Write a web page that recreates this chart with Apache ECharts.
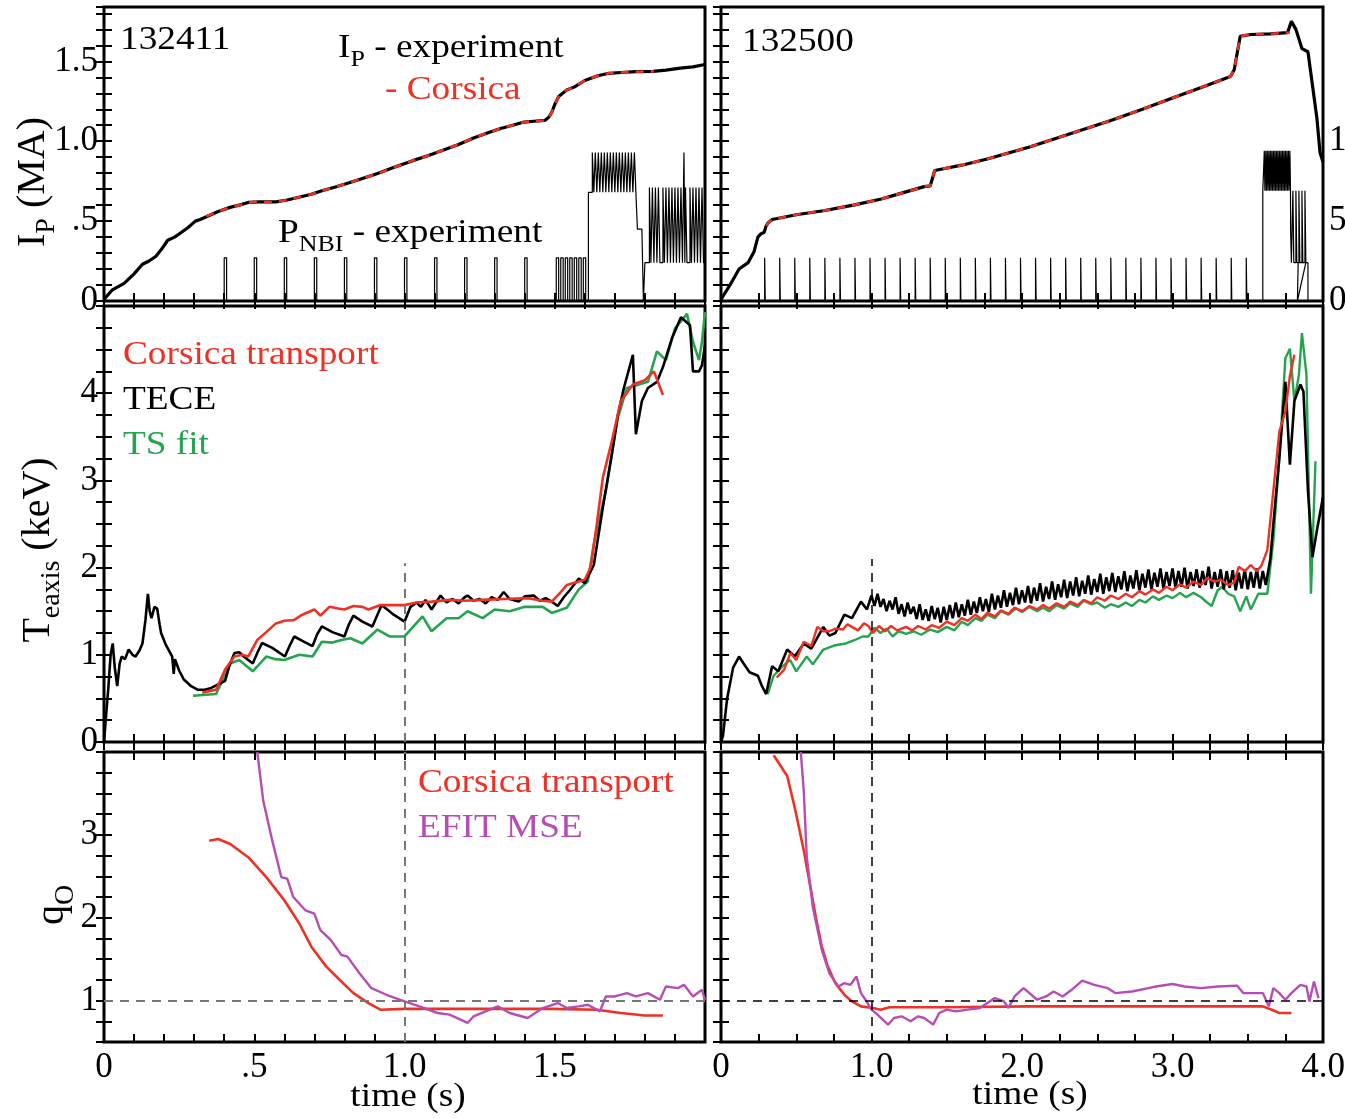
<!DOCTYPE html>
<html><head><meta charset="utf-8">
<script src="https://cdn.jsdelivr.net/npm/echarts@6/dist/echarts.min.js"></script>
<style>html,body{margin:0;padding:0;background:#fff}#c{width:1345px;height:1118px}</style>
</head><body><div id="c"></div>
<script>
// ---------------- DATA ----------------
// Ip (MA) vs time (s)
const leftIpExp = [[0,0.01],[0.028,0.07],[0.067,0.11],[0.1,0.17],[0.128,0.23],[0.15,0.25],[0.173,0.28],[0.19,0.32],[0.212,0.38],[0.235,0.40],[0.258,0.43],[0.28,0.46],[0.304,0.50],[0.32,0.51],[0.35,0.535],[0.38,0.56],[0.419,0.586],[0.45,0.60],[0.48,0.617],[0.52,0.62],[0.572,0.62],[0.61,0.632],[0.648,0.649],[0.69,0.668],[0.725,0.69],[0.77,0.713],[0.816,0.74],[0.86,0.767],[0.908,0.796],[0.97,0.84],[1.03,0.88],[1.08,0.91],[1.123,0.94],[1.18,0.98],[1.23,1.02],[1.28,1.055],[1.32,1.08],[1.36,1.10],[1.398,1.12],[1.43,1.125],[1.467,1.13],[1.48,1.15],[1.49,1.18],[1.50,1.23],[1.513,1.28],[1.54,1.32],[1.566,1.34],[1.60,1.38],[1.643,1.41],[1.68,1.425],[1.72,1.43],[1.77,1.435],[1.827,1.437],[1.87,1.445],[1.918,1.457],[1.96,1.465],[2.0,1.48]];
const leftIpCorsica = [[0.34,0.53],[0.38,0.56],[0.419,0.586],[0.45,0.60],[0.48,0.617],[0.52,0.62],[0.572,0.62],[0.61,0.632],[0.648,0.649],[0.69,0.668],[0.725,0.69],[0.77,0.713],[0.816,0.74],[0.86,0.767],[0.908,0.796],[0.97,0.84],[1.03,0.88],[1.08,0.91],[1.123,0.94],[1.18,0.98],[1.23,1.02],[1.28,1.055],[1.32,1.08],[1.36,1.10],[1.398,1.12],[1.43,1.125],[1.467,1.13],[1.48,1.15],[1.49,1.18],[1.50,1.23],[1.513,1.28],[1.54,1.32],[1.566,1.34],[1.60,1.38],[1.643,1.41],[1.68,1.425],[1.72,1.43],[1.77,1.435],[1.83,1.437]];
const rightIpExp = [[0,0.01],[0.06,0.1],[0.12,0.2],[0.18,0.24],[0.22,0.31],[0.245,0.40],[0.265,0.42],[0.287,0.43],[0.30,0.47],[0.314,0.49],[0.34,0.51],[0.5,0.54],[0.68,0.565],[0.88,0.60],[1.065,0.638],[1.2,0.675],[1.35,0.716],[1.39,0.72],[1.42,0.817],[1.6,0.85],[1.775,0.89],[2.05,0.964],[2.3,1.04],[2.59,1.13],[2.8,1.20],[3.0,1.27],[3.2,1.34],[3.385,1.405],[3.41,1.447],[3.45,1.657],[3.52,1.668],[3.65,1.672],[3.765,1.68],[3.79,1.75],[3.82,1.70],[3.86,1.58],[3.90,1.56],[3.93,1.35],[3.96,1.14],[3.98,0.93],[4.0,0.87]];
const rightIpCorsica = [[0.30,0.47],[0.314,0.49],[0.34,0.51],[0.5,0.54],[0.68,0.565],[0.88,0.60],[1.065,0.638],[1.2,0.675],[1.35,0.716],[1.39,0.72],[1.42,0.817],[1.6,0.85],[1.775,0.89],[2.05,0.964],[2.3,1.04],[2.59,1.13],[2.8,1.20],[3.0,1.27],[3.2,1.34],[3.385,1.405],[3.41,1.447],[3.45,1.657],[3.52,1.668],[3.65,1.672],[3.78,1.68]];

// P_NBI (MW): pulse start times and levels
const leftNbiPulsesA = [0.40,0.50,0.60,0.70,0.80,0.90,1.00,1.10,1.20,1.30,1.40,1.505,1.52,1.535,1.55,1.565,1.58,1.595];
const leftNbiPulsesB = [1.625,1.635,1.645,1.655,1.665,1.675,1.685,1.695,1.705,1.715,1.725,1.735,1.745,1.755,1.765];
const leftNbiPulsesC = [1.815,1.825,1.835,1.845,1.86,1.87,1.88,1.89,1.90,1.91,1.92,1.935,1.95,1.96,1.97,1.98,1.99];
const leftNbiLevels = {a:2.7, bBase:6.8, bTop:9.3, mid:4.5, cBase:2.4, cTop:7.1};
const rightNbiPulsesA = [0.29,0.39,0.49,0.59,0.69,0.79,0.89,0.99,1.09,1.19,1.29,1.39,1.49,1.59,1.69,1.79,1.89,1.99,2.09,2.19,2.29,2.39,2.49,2.59,2.69,2.79,2.89,2.99,3.09,3.19,3.29,3.39,3.49];
const rightNbiPulsesB = [3.61,3.62,3.63,3.64,3.65,3.66,3.67,3.68,3.69,3.70,3.71,3.72,3.73,3.74,3.75,3.76,3.77,3.78];
const rightNbiPulsesC = [3.80,3.82,3.84,3.86,3.88];
const rightNbiLevels = {a:2.7, bBase:6.9, bTop:9.4, cBase:2.4, cTop:6.9};

// T_e axis (keV)
const leftTeTece = [[0,0],[0.008,0.35],[0.014,0.6],[0.022,1.0],[0.029,1.13],[0.036,0.85],[0.044,0.64],[0.052,0.9],[0.059,0.98],[0.07,0.95],[0.082,1.06],[0.095,1.0],[0.105,0.98],[0.118,1.05],[0.128,1.13],[0.138,1.4],[0.146,1.7],[0.152,1.5],[0.158,1.42],[0.168,1.55],[0.177,1.53],[0.185,1.35],[0.19,1.25],[0.205,1.12],[0.227,0.98],[0.232,0.78],[0.236,0.95],[0.25,0.82],[0.265,0.72],[0.29,0.64],[0.311,0.60],[0.335,0.6],[0.357,0.62],[0.38,0.66],[0.403,0.70],[0.418,0.88],[0.434,1.02],[0.45,1.03],[0.465,0.98],[0.495,0.90],[0.51,1.02],[0.526,1.135],[0.56,1.08],[0.602,0.98],[0.62,1.12],[0.633,1.21],[0.66,1.16],[0.694,1.10],[0.71,1.24],[0.725,1.325],[0.76,1.26],[0.8,1.21],[0.815,1.35],[0.83,1.45],[0.86,1.38],[0.893,1.325],[0.91,1.46],[0.924,1.57],[0.96,1.47],[1.0,1.38],[1.02,1.55],[1.04,1.6],[1.055,1.55],[1.07,1.63],[1.09,1.52],[1.105,1.6],[1.12,1.68],[1.14,1.6],[1.16,1.64],[1.18,1.59],[1.2,1.66],[1.21,1.68],[1.23,1.62],[1.25,1.64],[1.27,1.59],[1.29,1.66],[1.31,1.63],[1.33,1.72],[1.35,1.64],[1.38,1.61],[1.4,1.67],[1.43,1.68],[1.45,1.62],[1.47,1.65],[1.49,1.61],[1.51,1.56],[1.53,1.66],[1.55,1.74],[1.58,1.875],[1.6,1.82],[1.63,2.03],[1.66,2.69],[1.69,3.30],[1.71,3.75],[1.73,4.06],[1.76,4.44],[1.77,3.53],[1.79,3.91],[1.81,4.06],[1.84,4.13],[1.86,4.3],[1.89,4.63],[1.92,4.87],[1.95,4.78],[1.96,4.25],[1.98,4.25],[1.99,4.32],[2.0,4.55]];
const leftTeCorsica = [[0.327,0.566],[0.373,0.60],[0.403,0.83],[0.434,0.98],[0.46,1.0],[0.48,0.98],[0.51,1.17],[0.54,1.26],[0.572,1.36],[0.60,1.39],[0.633,1.40],[0.66,1.46],[0.70,1.52],[0.72,1.45],[0.75,1.55],[0.78,1.53],[0.80,1.52],[0.83,1.56],[0.86,1.55],[0.88,1.52],[0.92,1.57],[0.95,1.57],[1.0,1.57],[1.04,1.60],[1.09,1.61],[1.15,1.63],[1.2,1.62],[1.26,1.63],[1.33,1.64],[1.41,1.65],[1.46,1.62],[1.49,1.61],[1.52,1.72],[1.54,1.80],[1.58,1.84],[1.60,1.86],[1.62,2.01],[1.64,2.5],[1.66,3.03],[1.69,3.45],[1.72,3.91],[1.76,4.10],[1.80,4.15],[1.83,4.25],[1.86,3.98]];
const leftTeTsFit = [[0.296,0.53],[0.373,0.55],[0.40,0.75],[0.419,0.90],[0.45,0.94],[0.495,0.81],[0.54,0.98],[0.57,0.95],[0.60,0.94],[0.65,1.0],[0.694,0.98],[0.725,1.15],[0.76,1.14],[0.79,1.17],[0.82,1.19],[0.86,1.13],[0.91,1.29],[0.95,1.21],[1.0,1.21],[1.06,1.44],[1.09,1.27],[1.14,1.42],[1.18,1.42],[1.21,1.50],[1.26,1.42],[1.30,1.52],[1.35,1.50],[1.40,1.55],[1.46,1.55],[1.49,1.48],[1.54,1.54],[1.58,1.75],[1.61,1.84],[1.63,2.27],[1.67,2.88],[1.71,3.72],[1.74,4.06],[1.78,4.10],[1.81,4.13],[1.84,4.48],[1.87,4.38],[1.90,4.74],[1.94,4.91],[1.96,4.59],[1.98,4.38],[1.99,4.59],[2.0,4.93]];
const rightTeTece = [[0,0.0],[0.013,0.07],[0.04,0.49],[0.08,0.85],[0.12,0.98],[0.15,0.9],[0.19,0.80],[0.245,0.76],[0.27,0.65],[0.30,0.55],[0.34,0.87],[0.38,0.81],[0.44,1.06],[0.49,0.98],[0.55,1.13],[0.6,1.07],[0.68,1.32],[0.72,1.22],[0.76,1.25],[0.82,1.46],[0.87,1.42],[0.93,1.61],[0.97,1.52],
[1.00,1.68],[1.02,1.56],[1.04,1.70],[1.06,1.55],[1.08,1.64],[1.10,1.50],[1.12,1.62],[1.14,1.52],[1.16,1.66],[1.18,1.47],[1.20,1.58],[1.22,1.44],[1.24,1.60],[1.26,1.47],[1.28,1.55],[1.30,1.41],[1.32,1.58],[1.34,1.40],[1.36,1.52],[1.38,1.39],[1.40,1.56],[1.42,1.41],[1.44,1.54],[1.46,1.37],[1.48,1.55],[1.50,1.40],[1.52,1.57],[1.54,1.42],[1.56,1.60],[1.58,1.43],[1.60,1.58],[1.62,1.45],[1.64,1.63],[1.66,1.46],[1.68,1.61],[1.70,1.48],[1.72,1.66],[1.74,1.50],[1.76,1.64],[1.78,1.49],[1.80,1.70],[1.82,1.52],[1.84,1.68],[1.86,1.54],[1.88,1.74],[1.90,1.55],[1.92,1.71],[1.94,1.57],[1.96,1.77],[1.98,1.58],
[2.00,1.74],[2.02,1.60],[2.04,1.79],[2.06,1.59],[2.08,1.77],[2.10,1.62],[2.12,1.82],[2.14,1.61],[2.16,1.78],[2.18,1.64],[2.20,1.84],[2.22,1.63],[2.24,1.81],[2.26,1.66],[2.28,1.86],[2.30,1.65],[2.32,1.84],[2.34,1.68],[2.36,1.89],[2.38,1.67],[2.40,1.85],[2.42,1.70],[2.44,1.91],[2.46,1.69],[2.48,1.87],[2.50,1.72],[2.52,1.93],[2.54,1.70],[2.56,1.89],[2.58,1.73],[2.60,1.94],[2.62,1.72],[2.64,1.90],[2.66,1.75],[2.68,1.96],[2.70,1.73],[2.72,1.91],[2.74,1.76],[2.76,1.97],[2.78,1.74],[2.80,1.93],[2.82,1.77],[2.84,1.98],[2.86,1.75],[2.88,1.94],[2.90,1.78],[2.92,1.99],[2.94,1.76],[2.96,1.95],[2.98,1.79],
[3.00,1.99],[3.02,1.77],[3.04,1.96],[3.06,1.78],[3.08,2.00],[3.10,1.76],[3.12,1.95],[3.14,1.79],[3.16,1.98],[3.18,1.77],[3.20,1.96],[3.22,1.80],[3.24,2.01],[3.26,1.76],[3.28,1.95],[3.30,1.78],[3.32,1.98],[3.34,1.75],[3.36,1.96],[3.38,1.77],[3.40,1.97],[3.42,1.74],[3.44,1.94],[3.46,1.76],[3.48,1.98],[3.50,1.75],[3.52,1.95],[3.54,1.77],[3.56,1.99],[3.58,1.76],[3.60,1.96],[3.62,1.80],
[3.65,2.1],[3.67,2.50],[3.71,3.26],[3.75,4.13],[3.78,3.18],[3.81,3.91],[3.85,4.10],[3.87,4.02],[3.90,2.88],[3.93,2.12],[3.96,2.43],[4.0,2.81]];
const rightTeCorsica = [[0.37,0.74],[0.42,0.83],[0.46,1.02],[0.5,0.94],[0.55,1.15],[0.6,1.10],[0.64,1.32],[0.68,1.27],[0.72,1.27],[0.76,1.30],[0.81,1.29],[0.84,1.35],[0.87,1.32],[0.91,1.28],[0.95,1.36],[0.98,1.33],[1.01,1.25],[1.05,1.33],[1.09,1.27],[1.13,1.33],[1.17,1.28],[1.23,1.32],[1.27,1.28],[1.31,1.33],[1.36,1.29],[1.40,1.34],[1.45,1.31],[1.50,1.38],[1.55,1.34],[1.60,1.42],[1.64,1.39],[1.69,1.46],[1.73,1.41],[1.77,1.48],[1.82,1.44],[1.86,1.51],[1.91,1.47],[1.95,1.54],[2.0,1.50],[2.05,1.56],[2.10,1.52],[2.14,1.57],[2.18,1.53],[2.23,1.59],[2.28,1.55],[2.32,1.61],[2.37,1.57],[2.41,1.63],[2.46,1.59],[2.50,1.66],[2.55,1.62],[2.59,1.68],[2.64,1.64],[2.69,1.70],[2.73,1.66],[2.78,1.73],[2.82,1.69],[2.87,1.75],[2.91,1.71],[2.96,1.78],[3.0,1.74],[3.05,1.81],[3.09,1.77],[3.14,1.84],[3.19,1.80],[3.23,1.88],[3.28,1.84],[3.32,1.86],[3.37,1.80],[3.41,1.83],[3.44,2.01],[3.48,1.96],[3.52,2.03],[3.56,1.96],[3.59,2.02],[3.63,2.20],[3.67,2.88],[3.71,3.56],[3.75,3.79],[3.78,4.2],[3.81,4.44]];
const rightTeTsFit = [[0.31,0.55],[0.35,0.76],[0.41,0.87],[0.46,0.94],[0.5,0.81],[0.57,0.98],[0.61,0.89],[0.68,1.06],[0.76,1.11],[0.83,1.13],[0.89,1.17],[0.94,1.21],[0.98,1.21],[1.02,1.31],[1.06,1.25],[1.10,1.30],[1.14,1.21],[1.18,1.27],[1.23,1.24],[1.28,1.27],[1.33,1.23],[1.39,1.29],[1.44,1.26],[1.50,1.32],[1.55,1.28],[1.60,1.38],[1.64,1.34],[1.69,1.42],[1.73,1.39],[1.77,1.46],[1.82,1.42],[1.86,1.50],[1.91,1.46],[1.96,1.53],[2.0,1.49],[2.05,1.55],[2.10,1.50],[2.14,1.54],[2.18,1.50],[2.23,1.57],[2.28,1.53],[2.32,1.59],[2.37,1.55],[2.41,1.62],[2.46,1.58],[2.50,1.60],[2.55,1.54],[2.59,1.58],[2.64,1.55],[2.69,1.60],[2.73,1.56],[2.78,1.63],[2.82,1.60],[2.87,1.67],[2.91,1.63],[2.96,1.68],[3.0,1.65],[3.05,1.71],[3.09,1.66],[3.14,1.71],[3.19,1.66],[3.23,1.60],[3.26,1.56],[3.30,1.74],[3.33,1.78],[3.37,1.70],[3.41,1.67],[3.45,1.50],[3.49,1.67],[3.52,1.52],[3.57,1.70],[3.63,1.70],[3.67,2.31],[3.71,3.26],[3.75,4.40],[3.78,4.51],[3.81,3.91],[3.84,4.21],[3.86,4.69],[3.89,4.21],[3.92,1.70],[3.95,3.22]];

// q0
const leftQCorsica = [[0.35,2.93],[0.38,2.95],[0.42,2.89],[0.48,2.73],[0.54,2.49],[0.60,2.21],[0.65,1.93],[0.69,1.65],[0.74,1.41],[0.79,1.23],[0.83,1.09],[0.88,0.97],[0.92,0.89],[1.0,0.90],[1.18,0.90],[1.49,0.90],[1.64,0.89],[1.72,0.85],[1.80,0.82],[1.86,0.82]];
const leftQEfit = [[0.51,4.0],[0.53,3.41],[0.56,2.93],[0.59,2.49],[0.61,2.47],[0.63,2.25],[0.67,2.09],[0.70,2.05],[0.72,1.85],[0.755,1.73],[0.79,1.55],[0.81,1.53],[0.85,1.33],[0.89,1.15],[0.94,1.07],[1.0,0.99],[1.05,0.93],[1.11,0.85],[1.15,0.83],[1.21,0.73],[1.23,0.81],[1.31,0.93],[1.35,0.85],[1.41,0.79],[1.46,0.91],[1.51,0.97],[1.54,0.91],[1.58,0.93],[1.61,0.95],[1.65,0.87],[1.67,1.05],[1.70,1.05],[1.74,1.09],[1.77,1.05],[1.81,1.09],[1.85,1.01],[1.87,1.17],[1.91,1.15],[1.93,1.19],[1.96,1.05],[1.99,1.13],[2.0,1.01]];
const rightQCorsica = [[0.35,3.96],[0.44,3.71],[0.49,3.33],[0.55,2.81],[0.59,2.41],[0.63,2.01],[0.67,1.65],[0.71,1.41],[0.76,1.21],[0.82,1.07],[0.87,0.99],[0.93,0.93],[1.01,0.91],[1.06,0.89],[1.12,0.92],[1.50,0.92],[2.05,0.93],[2.59,0.93],[3.14,0.93],[3.60,0.93],[3.66,0.89],[3.71,0.85],[3.79,0.85]];
const rightQEfit = [[0.53,4.0],[0.55,3.53],[0.57,2.73],[0.61,2.13],[0.67,1.61],[0.72,1.33],[0.78,1.17],[0.82,1.21],[0.86,1.19],[0.90,1.29],[0.93,1.09],[0.96,1.01],[1.0,0.89],[1.04,0.83],[1.11,0.71],[1.15,0.79],[1.20,0.81],[1.26,0.75],[1.31,0.81],[1.35,0.79],[1.41,0.71],[1.45,0.85],[1.50,0.89],[1.56,0.87],[1.64,0.89],[1.72,0.91],[1.77,0.97],[1.82,1.03],[1.88,0.99],[1.91,0.91],[1.95,1.05],[2.01,1.15],[2.05,1.09],[2.10,1.01],[2.16,1.05],[2.21,1.11],[2.27,1.05],[2.33,1.13],[2.40,1.24],[2.48,1.19],[2.57,1.15],[2.62,1.09],[2.73,1.11],[2.84,1.15],[2.89,1.17],[3.0,1.20],[3.08,1.17],[3.19,1.15],[3.30,1.17],[3.43,1.18],[3.47,1.09],[3.60,1.09],[3.64,0.93],[3.67,1.15],[3.71,1.09],[3.75,1.01],[3.79,1.09],[3.85,1.19],[3.89,1.17],[3.91,0.99],[3.94,1.23],[3.97,1.03]];

// reference markers
const refTime = 1.0;
const refQ = 1.0;
const leftMidMarkerTop = 2.05;
const rightMidMarkerTop = 2.1;

// tick labels
const leftTimeLabels = [[0,'0'],[0.5,'.5'],[1.0,'1.0'],[1.5,'1.5']];
const rightTimeLabels = [[0,'0'],[1,'1.0'],[2,'2.0'],[3,'3.0'],[4,'4.0']];
const ipLabels = [[0,'0'],[0.5,'.5'],[1.0,'1.0'],[1.5,'1.5']];
const nbiLabels = [[0,'0'],[5,'5'],[10,'10']];
const teLabels = [[0,'0'],[1,'1'],[2,'2'],[3,'3'],[4,'4']];
const qLabels = [[1,'1'],[2,'2'],[3,'3']];

// ---------------- BUILD ----------------
function addPulses(out, times, base, top, w){
  times.forEach(t => { out.push([t,base],[t,top],[t+w,top],[t+w,base]); });
}
const L = leftNbiLevels, R = rightNbiLevels;
const leftNbi = [[0,0]];
addPulses(leftNbi, leftNbiPulsesA, 0, L.a, 0.008);
leftNbi.push([1.612,0],[1.612,L.bBase]);
addPulses(leftNbi, leftNbiPulsesB, L.bBase, L.bTop, 0.005);
leftNbi.push([1.775,L.bBase],[1.775,L.mid],[1.79,L.mid],[1.795,0],[1.80,0],[1.80,L.cBase]);
addPulses(leftNbi, leftNbiPulsesC.slice(0,11), L.cBase, L.cTop, 0.005);
leftNbi.push([1.93,L.cBase],[1.93,L.bTop],[1.933,L.bTop],[1.933,L.cBase]);
addPulses(leftNbi, leftNbiPulsesC.slice(11), L.cBase, L.cTop, 0.005);
leftNbi.push([2.0,L.cBase]);

const rightNbi = [[0,0]];
addPulses(rightNbi, rightNbiPulsesA, 0, R.a, 0.004);
rightNbi.push([3.60,0],[3.60,R.bBase]);
addPulses(rightNbi, rightNbiPulsesB, R.bBase, R.bTop, 0.004);
rightNbi.push([3.785,R.bBase],[3.785,4.3],[3.79,R.cBase]);
addPulses(rightNbi, rightNbiPulsesC, R.cBase, R.cTop, 0.006);
rightNbi.push([3.83,0],[3.835,R.cBase],[3.90,R.cBase],[3.90,0],[3.93,0]);

const FONT = 'Liberation Serif';
const TICKFS = 35;
function pick(labels, v){
  for (const [val, lab] of labels) if (Math.abs(v - val) < 1e-6) return lab;
  return '';
}
const tickStyle = {inside:true, length:8, lineStyle:{width:2, color:'#000'}};
function xAx(g, pos, max, interval, labels){
  return {gridIndex:g, type:'value', position:pos, min:0, max:max, interval:interval,
    axisLine:{show:false}, axisTick:tickStyle, splitLine:{show:false},
    axisLabel:{show:!!labels, formatter:v=>labels?pick(labels,v):'', fontFamily:FONT, fontSize:TICKFS, color:'#000', margin:8, hideOverlap:false}};
}
function yAx(g, pos, min, max, interval, labels){
  return {gridIndex:g, type:'value', position:pos, min:min, max:max, interval:interval,
    axisLine:{show:false}, axisTick:tickStyle, splitLine:{show:false},
    axisLabel:{show:!!labels, formatter:v=>labels?pick(labels,v):'', fontFamily:FONT, fontSize:TICKFS, color:'#000', margin:6, hideOverlap:false}};
}
const colL = {left:104, width:601}, colR = {left:721, width:602};
const rows = [{top:7,height:294},{top:306,height:436},{top:752,height:290}];
const grids = [];
rows.forEach(r => { grids.push(Object.assign({}, colL, r), Object.assign({}, colR, r)); });
grids.forEach(g => { g.show = true; g.borderColor = '#000'; g.borderWidth = 3; g.backgroundColor = 'rgba(0,0,0,0)'; g.containLabel = false; g.outerBoundsMode = 'none'; });

const xAxes = [], yAxes = [];
for (let g = 0; g < 6; g++) {
  const left = g % 2 === 0;
  const bottomRow = g >= 4;
  xAxes.push(xAx(g,'bottom', left?2:4, left?0.1:0.25, bottomRow ? (left?leftTimeLabels:rightTimeLabels) : null));
  xAxes.push(xAx(g,'top', left?2:4, left?0.1:0.25, null));
}
yAxes.push(yAx(0,'left',0,1.84,0.1,ipLabels));
yAxes.push(yAx(0,'right',0,18.4,1,null));
yAxes.push(yAx(1,'left',0,1.84,0.1,null));
yAxes.push(yAx(1,'right',0,18.4,1,nbiLabels));
yAxes.push(yAx(2,'left',0,5,0.25,teLabels));
yAxes.push(yAx(2,'right',0,5,0.25,null));
yAxes.push(yAx(3,'left',0,5,0.25,null));
yAxes.push(yAx(3,'right',0,5,0.25,null));
yAxes.push(yAx(4,'left',0.5,4,0.25,qLabels));
yAxes.push(yAx(4,'right',0.5,4,0.25,null));
yAxes.push(yAx(5,'left',0.5,4,0.25,null));
yAxes.push(yAx(5,'right',0.5,4,0.25,null));

const RED = '#ee3124', GREEN = '#25a44f', MAG = '#b64db3';
function line(data, xi, yi, color, width, extra){
  return Object.assign({type:'line', data:data, xAxisIndex:xi, yAxisIndex:yi, showSymbol:false, symbol:'none',
    lineStyle:{color:color, width:width}, itemStyle:{color:color}, animation:false, silent:true, z:3}, extra||{});
}
function mline(segs, color, width, dash){
  return {silent:true, symbol:'none', animation:false, label:{show:false},
    lineStyle:{color:color, width:width, type:dash}, data:segs.map(s=>[{coord:s[0]},{coord:s[1]}])};
}

const series = [
  line(leftNbi, 0, 1, '#000', 1.2),
  line(leftIpExp, 0, 0, '#000', 3.2),
  line(leftIpCorsica, 0, 0, RED, 2.6, {lineStyle:{color:RED,width:2.6,type:[8,7]}}),
  line(rightNbi, 2, 3, '#000', 1.2),
  line(rightIpExp, 2, 2, '#000', 3.2),
  line(rightIpCorsica, 2, 2, RED, 2.6, {lineStyle:{color:RED,width:2.6,type:[8,7]}}),

  line(leftTeTsFit, 4, 4, GREEN, 2.6, {markLine: mline([[[refTime,0],[refTime,leftMidMarkerTop]]], '#777', 2, [9,7])}),
  line(leftTeTece, 4, 4, '#000', 2.6),
  line(leftTeCorsica, 4, 4, RED, 2.6),
  line(rightTeTsFit, 6, 6, GREEN, 2.4, {markLine: mline([[[refTime,0],[refTime,rightMidMarkerTop]]], '#000', 1.5, [9,7])}),
  line(rightTeTece, 6, 6, '#000', 2.6),
  line(rightTeCorsica, 6, 6, RED, 2.4),

  line(leftQCorsica, 8, 8, RED, 2.6, {markLine: mline([[[refTime,0.5],[refTime,4]],[[0,refQ],[2,refQ]]], '#777', 2, [9,7])}),
  line(leftQEfit, 8, 8, MAG, 2.4),
  line(rightQCorsica, 10, 10, RED, 2.6, {markLine: mline([[[refTime,0.5],[refTime,4]],[[0,refQ],[4,refQ]]], '#000', 1.5, [9,7])}),
  line(rightQEfit, 10, 10, MAG, 2.4),
];

function richFor(color, main, sub){
  return {
    m:{font: main+'px "'+FONT+'"', fill:color, lineHeight: Math.round(main*1.4), verticalAlign:'middle'},
    s:{font: sub+'px "'+FONT+'"', fill:color, lineHeight: Math.round(main*1.4), verticalAlign:'bottom'}
  };
}
function txt(x, y, color, text){
  return {type:'text', x:x, y:y, scaleX:1.13, silent:true, z:100,
    style:{text:text, rich:richFor(color,33,23), textVerticalAlign:'middle', textAlign:'left'}};
}
function vtxt(x, y, text){
  return {type:'text', x:x, y:y, rotation:Math.PI/2, silent:true, z:100,
    style:{text:text, rich:richFor('#000',40,28), textAlign:'center', textVerticalAlign:'middle'}};
}
const graphics = [
  txt(120, 40, '#000', '{m|132411}'),
  txt(742, 42, '#000', '{m|132500}'),
  txt(338, 48, '#000', '{m|I}{s|P}{m| - experiment}'),
  txt(385, 90, RED, '{m|- Corsica}'),
  txt(278, 233, '#000', '{m|P}{s|NBI}{m| - experiment}'),
  txt(123, 355, RED, '{m|Corsica transport}'),
  txt(123, 400, '#000', '{m|TECE}'),
  txt(123, 445, GREEN, '{m|TS fit}'),
  txt(418, 783, RED, '{m|Corsica transport}'),
  txt(418, 828, MAG, '{m|EFIT MSE}'),
  vtxt(33, 182, '{m|I}{s|P}{m| (MA)}'),
  vtxt(38, 550, '{m|T}{s|eaxis}{m| (keV)}'),
  vtxt(52, 905, '{m|q}{s|O}'),
  {type:'text', x:408, y:1097, scaleX:1.1, silent:true, z:100,
   style:{text:'time (s)', font:'34px "'+FONT+'"', fill:'#000', textAlign:'center', textVerticalAlign:'middle'}},
  {type:'text', x:1030, y:1095, scaleX:1.1, silent:true, z:100,
   style:{text:'time (s)', font:'34px "'+FONT+'"', fill:'#000', textAlign:'center', textVerticalAlign:'middle'}},
];

const chart = echarts.init(document.getElementById('c'), null, {renderer:'canvas'});
chart.setOption({
  animation:false,
  backgroundColor:'#fff',
  grid:grids, xAxis:xAxes, yAxis:yAxes, series:series, graphic:graphics
});
</script></body></html>
